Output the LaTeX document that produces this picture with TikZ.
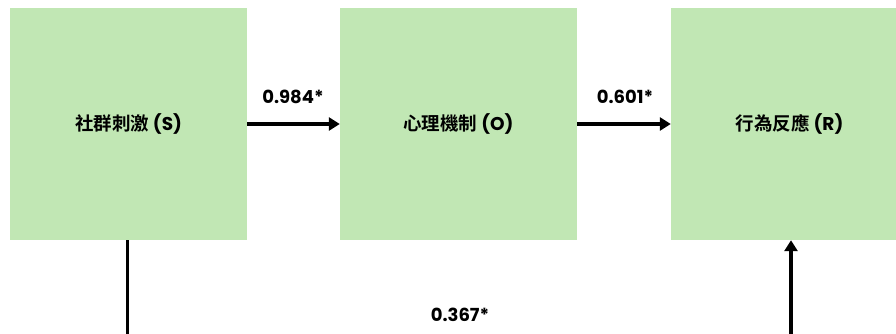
\documentclass[tikz,border=0pt]{standalone}
\usepackage{fontspec}
\setmainfont{Poppins}[BoldFont={Poppins Bold}]
\newfontfamily\cjk{Noto Sans CJK TC}[BoldFont={Noto Sans CJK TC Bold}]
\usetikzlibrary{arrows.meta}
\definecolor{boxgreen}{HTML}{C1E7B4}
\tikzset{
  stagebox/.style={fill=boxgreen, draw=none, minimum width=237pt, minimum height=232pt, inner sep=0pt, font=\fontsize{18.5}{22}\selectfont\bfseries},
  link/.style={line width=3.6pt, draw=black},
  arrowlink/.style={link, -{Triangle[length=11pt,width=13pt]}},
  coef/.style={font=\fontsize{18}{22}\selectfont\bfseries, inner sep=0pt}
}
\begin{document}
\begin{tikzpicture}[x=1pt,y=1pt]
\useasboundingbox (0,0) rectangle (896,333);
\fill[white] (0,0) rectangle (896,333);
\begin{scope}
\clip (0,0) rectangle (896,333);
\node[stagebox] (s) at (128.5,209) {{\cjk\bfseries 社群刺激} (S)};
\node[stagebox] (o) at (458.5,209) {{\cjk\bfseries 心理機制} (O)};
\node[stagebox] (r) at (789.5,209) {{\cjk\bfseries 行為反應} (R)};
\coordinate (sb) at (127.5,-2);
\coordinate (rb) at (791,-2);
\draw[arrowlink] (s.east) -- (o.west);
\draw[arrowlink] (o.east) -- (r.west);
\draw[link] (s.south -| sb) -- (sb);
\draw[arrowlink] (rb) -- (rb |- r.south);
\node[coef] (c1) at (293,236) {0.984*};
\node[coef] (c2) at (625,236) {0.601*};
\node[coef] (c3) at (460,18) {0.367*};
\end{scope}
\end{tikzpicture}
\end{document}
